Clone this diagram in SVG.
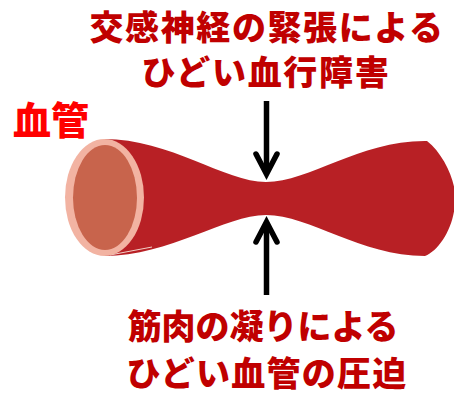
<svg xmlns="http://www.w3.org/2000/svg" width="454" height="396" viewBox="0 0 454 396">
  <style>
    .jp { font-family: "Noto Sans CJK JP", "Noto Sans", sans-serif; font-weight: 900; text-anchor: middle; }
    .cap { fill: #c00000; font-size: 34px; }
    .tag { fill: #ff0000; font-size: 38px; text-anchor: start; }
    .arrow { fill: none; stroke: #000; stroke-width: 5.5; stroke-linecap: butt; }
    .chev { fill: none; stroke: #000; stroke-width: 5.5; stroke-linecap: round; stroke-linejoin: miter; }
  </style>
  <rect width="454" height="396" fill="#fff"/>

  <!-- vessel body: pinched in the middle -->
  <g id="vessel">
    <path fill="#b82025" d="M104,139 C170,139 225,182 266,182 C310,182 360,140 427,141 C445,155 457,185 455,200 C455,225 440,250 425,256 C360,256 310,215 266,215 C225,215 170,256 104,256 Z"/>
    <path d="M110,255 L152,247" stroke="#f3d0c8" stroke-width="1" fill="none"/>
    <ellipse cx="104.5" cy="197.5" rx="39.5" ry="58.5" fill="#f2b3a2"/>
    <ellipse cx="105" cy="197.5" rx="32" ry="52.5" fill="#c8644c"/>
  </g>

  <g id="label-vessel">
    <text class="jp tag" x="13" y="134">血管</text>
  </g>

  <!-- pressure arrows -->
  <g id="connectors">
    <path class="arrow" d="M266.5,101 L266.5,172"/>
    <path class="chev" d="M256,154 L266.5,174 L277,154"/>
    <path class="arrow" d="M266.5,295 L266.5,224"/>
    <path class="chev" d="M256,242 L266.5,222 L277,242"/>
  </g>

  <g id="caption-top">
    <text class="jp cap" x="267" y="40" letter-spacing="1.6">交感神経の緊張による</text>
    <text class="jp cap" x="266" y="85" letter-spacing="1.7">ひどい血行障害</text>
  </g>

  <g id="caption-bottom">
    <text class="jp cap" x="263" y="339">筋肉の凝りによる</text>
    <text class="jp cap" x="267" y="386" letter-spacing="1.25">ひどい血管の圧迫</text>
  </g>
</svg>
